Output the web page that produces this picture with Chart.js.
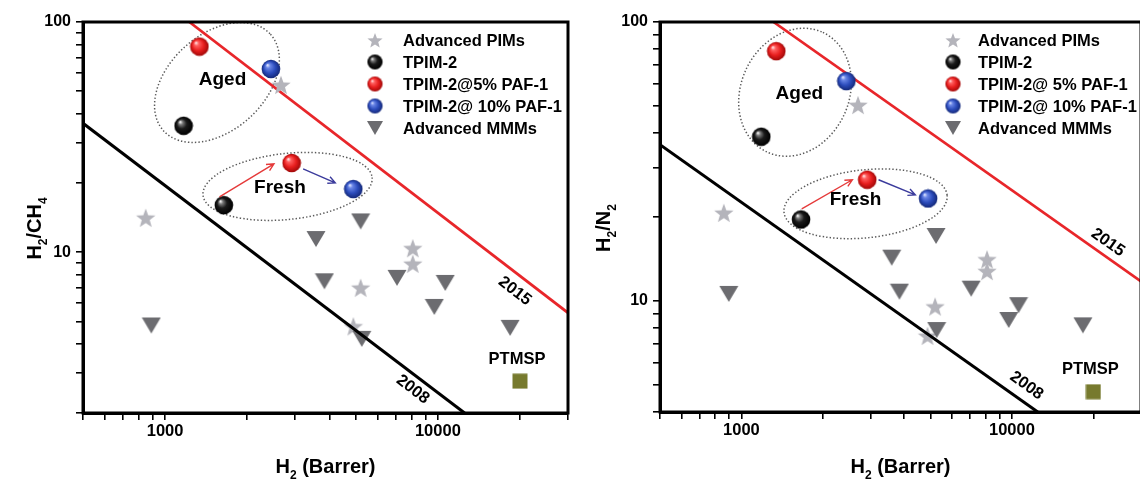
<!DOCTYPE html>
<html>
<head>
<meta charset="utf-8">
<script src="https://cdn.jsdelivr.net/npm/chart.js@4.4.1/dist/chart.umd.min.js"></script>
<style>
  html, body { margin: 0; padding: 0; background: #fff; overflow: hidden; width: 1140px; height: 479px; }
  #wrap { position: relative; width: 1140px; height: 479px; }
  canvas { position: absolute; top: 0; }
  #chartCH4 { left: 0; }
  #chartN2 { left: 580px; }
</style>
</head>
<body>
<div id="wrap">
  <canvas id="chartCH4" width="580" height="479"></canvas>
  <canvas id="chartN2" width="570" height="479"></canvas>
</div>
<script>
// shared axis values
const xRange = [500, 30000];
const xTicks = [500, 600, 700, 800, 900, 1000, 2000, 3000, 4000, 5000, 6000, 7000, 8000, 9000, 10000, 20000, 30000];
const xLabelled = [1000, 10000];
const yLabelled = [10, 100];

// H2/CH4 panel
const ch4Range = [2, 100];
const ch4Ticks = [2, 3, 4, 5, 6, 7, 8, 9, 10, 20, 30, 40, 50, 60, 70, 80, 90, 100];
const ch4Names = ['Advanced PIMs', 'TPIM-2', 'TPIM-2@5% PAF-1', 'TPIM-2@ 10% PAF-1', 'Advanced MMMs'];
const ch4PimsX = [849, 2660, 8090, 8090, 5210, 4900];
const ch4PimsY = [14.1, 53.3, 10.4, 8.9, 7.0, 4.76];
const ch4TpimX = [1169, 1642];
const ch4TpimY = [35.4, 16.0];
const ch4Paf5X = [1336, 2911];
const ch4Paf5Y = [78.2, 24.4];
const ch4Paf10X = [2443, 4897];
const ch4Paf10Y = [62.5, 18.8];
const ch4MmmX = [890, 3573, 3838, 5210, 5260, 7080, 9700, 10640, 18400];
const ch4MmmY = [4.80, 11.4, 7.47, 13.6, 4.2, 7.73, 5.78, 7.35, 4.69];
const ch4PtmspX = [20000];
const ch4PtmspY = [2.75];
const ch4Bound2015X = [1227, 30000];
const ch4Bound2015Y = [100, 5.45];
const ch4Bound2008X = [500, 12530];
const ch4Bound2008Y = [36.3, 2];
// annotation anchors (data coordinates)
const ch4AgedRing = [1549, 54.6];
const ch4FreshRing = [2812, 19.3];
const ch4AgedText = [1624, 56];
const ch4FreshText = [2637, 19.05];
const ch4ArrowRed = [1583, 17.4, 2506, 24.2];
const ch4ArrowBlue = [3206, 23.0, 4206, 20.0];
const ch4Label2015 = [19150, 6.77];
const ch4Label2008 = [8090, 2.53];

// H2/N2 panel
const n2Range = [4, 100];
const n2Ticks = [4, 5, 6, 7, 8, 9, 10, 20, 30, 40, 50, 60, 70, 80, 90, 100];
const n2Names = ['Advanced PIMs', 'TPIM-2', 'TPIM-2@ 5% PAF-1', 'TPIM-2@ 10% PAF-1', 'Advanced MMMs'];
const n2PimsX = [861, 2698, 8090, 8090, 5200, 4876];
const n2PimsY = [20.7, 50.4, 14.1, 12.8, 9.55, 7.5];
const n2TpimX = [1184, 1661];
const n2TpimY = [38.8, 19.6];
const n2Paf5X = [1345, 2918];
const n2Paf5Y = [78.6, 27.2];
const n2Paf10X = [2443, 4898];
const n2Paf10Y = [61.4, 23.3];
const n2MmmX = [898, 3594, 3837, 5240, 5270, 7068, 9730, 10580, 18300];
const n2MmmY = [10.6, 14.3, 10.8, 17.1, 7.87, 11.07, 8.55, 9.66, 8.18];
const n2PtmspX = [20000];
const n2PtmspY = [4.73];
const n2Bound2015X = [1314, 30000];
const n2Bound2015Y = [100, 11.75];
const n2Bound2008X = [500, 12460];
const n2Bound2008Y = [36.3, 4];
const n2AgedRing = [1578, 56];
const n2FreshRing = [2877, 22.3];
const n2AgedText = [1637, 55.2];
const n2FreshText = [2643, 23.1];
const n2ArrowRed = [1671, 21.4, 2571, 27.2];
const n2ArrowBlue = [3213, 27.2, 4395, 24.0];
const n2Label2015 = [22650, 16.2];
const n2Label2008 = [11320, 4.97];

const FONT = "'Liberation Sans', Arial, Helvetica, sans-serif";

// ---- marker images ----
function newCanvas(size) {
    const c = document.createElement('canvas');
    c.width = size; c.height = size;
    return c;
}

function makeSphere(size, r, stops) {
    const c = newCanvas(size);
    const g = c.getContext('2d');
    const m = size / 2;
    const grad = g.createRadialGradient(m - r * 0.38, m - r * 0.42, r * 0.05, m, m, r);
    stops.forEach(s => grad.addColorStop(s[0], s[1]));
    g.fillStyle = grad;
    g.beginPath();
    g.arc(m, m, r, 0, Math.PI * 2);
    g.fill();
    return c;
}

function makeStar(size, outer, inner, color) {
    const c = newCanvas(size);
    const g = c.getContext('2d');
    const m = size / 2;
    g.fillStyle = color;
    g.beginPath();
    for (let i = 0; i < 10; i++) {
        const a = -Math.PI / 2 + i * Math.PI / 5;
        const rr = i % 2 ? inner : outer;
        g.lineTo(m + rr * Math.cos(a), m + 1 + rr * Math.sin(a));
    }
    g.closePath();
    g.fill();
    return c;
}

function makeTriangle(size, w, h, color) {
    const c = newCanvas(size);
    const g = c.getContext('2d');
    const m = size / 2;
    const top = (size - h) / 2;
    g.fillStyle = color;
    g.beginPath();
    g.moveTo(m - w / 2, top);
    g.lineTo(m + w / 2, top);
    g.lineTo(m, top + h);
    g.closePath();
    g.fill();
    return c;
}

function makeSquare(size, s, color) {
    const c = newCanvas(size);
    const g = c.getContext('2d');
    g.fillStyle = color;
    g.fillRect((size - s) / 2, (size - s) / 2, s, s);
    return c;
}

const blackStops = [[0, '#f4f4f4'], [0.18, '#7a7a7a'], [0.5, '#1a1a1a'], [1, '#000']];
const redStops = [[0, '#ffe0e0'], [0.2, '#ff6060'], [0.6, '#e81e1e'], [1, '#a00808']];
const blueStops = [[0, '#d8e0ff'], [0.2, '#6a86e6'], [0.6, '#2c4cbc'], [1, '#142878']];

const icons = {
    black: makeSphere(20, 9.3, blackStops),
    red: makeSphere(20, 9.3, redStops),
    blue: makeSphere(20, 9.3, blueStops),
    star: makeStar(22, 10.2, 4.2, '#b4b4bb'),
    tri: makeTriangle(20, 19, 16, '#6c6c70'),
    square: makeSquare(16, 15, '#777a2e')
};
const legendIcons = [
    makeStar(18, 8, 3.4, '#b4b4bb'),
    makeSphere(17, 7.6, blackStops),
    makeSphere(17, 7.6, redStops),
    makeSphere(17, 7.6, blueStops),
    makeTriangle(18, 16, 14, '#6c6c70')
];

// ---- helpers ----
function pts(xs, ys) {
    return xs.map((x, i) => ({ x: x, y: ys[i] }));
}

function pointSet(label, xs, ys, icon) {
    return {
        label: label,
        data: pts(xs, ys),
        pointStyle: icon,
        pointRadius: 8,
        pointHoverRadius: 8,
        showLine: false
    };
}

function lineSet(label, xs, ys, color, width) {
    return {
        label: label,
        data: pts(xs, ys),
        showLine: true,
        borderColor: color,
        borderWidth: width,
        pointRadius: 0,
        pointHoverRadius: 0,
        fill: false
    };
}

function isLabelled(v, list) {
    return list.some(l => Math.abs(l - v) < 1e-6);
}

function drawSubText(ctx, parts, cx, cy, size, angle) {
    ctx.save();
    ctx.translate(cx, cy);
    ctx.rotate(angle);
    const big = 'bold ' + size + 'px ' + FONT;
    const small = 'bold ' + Math.round(size * 0.62) + 'px ' + FONT;
    let w = 0;
    parts.forEach(p => { ctx.font = p[1] ? small : big; w += ctx.measureText(p[0]).width; });
    let x = -w / 2;
    ctx.fillStyle = '#000';
    ctx.textAlign = 'left';
    ctx.textBaseline = 'alphabetic';
    parts.forEach(p => {
        ctx.font = p[1] ? small : big;
        ctx.fillText(p[0], x, size * 0.36 + (p[1] ? size * 0.3 : 0));
        x += ctx.measureText(p[0]).width;
    });
    ctx.restore();
}

function drawArrow(ctx, x1, y1, x2, y2, color) {
    const a = Math.atan2(y2 - y1, x2 - x1);
    ctx.strokeStyle = color;
    ctx.lineWidth = 1.4;
    ctx.beginPath();
    ctx.moveTo(x1, y1);
    ctx.lineTo(x2, y2);
    ctx.moveTo(x2 - 8 * Math.cos(a - 0.45), y2 - 8 * Math.sin(a - 0.45));
    ctx.lineTo(x2, y2);
    ctx.lineTo(x2 - 8 * Math.cos(a + 0.45), y2 - 8 * Math.sin(a + 0.45));
    ctx.stroke();
}

// rings, arrows, texts, legend, frame and axis titles
const annotPlugin = {
    id: 'annot',
    beforeDatasetsDraw(chart, args, o) {
        const ctx = chart.ctx;
        const px = v => chart.scales.x.getPixelForValue(v);
        const py = v => chart.scales.y.getPixelForValue(v);
        ctx.save();
        ctx.strokeStyle = '#5a5a5a';
        ctx.lineWidth = 1.5;
        ctx.setLineDash([1.4, 2.1]);
        o.rings.forEach(r => {
            ctx.beginPath();
            ctx.ellipse(px(r.at[0]), py(r.at[1]), r.rx, r.ry, r.rot * Math.PI / 180, 0, Math.PI * 2);
            ctx.stroke();
        });
        ctx.restore();
    },
    afterDatasetsDraw(chart, args, o) {
        const ctx = chart.ctx;
        const area = chart.chartArea;
        const px = v => chart.scales.x.getPixelForValue(v);
        const py = v => chart.scales.y.getPixelForValue(v);
        ctx.save();

        drawArrow(ctx, px(o.arrowRed[0]), py(o.arrowRed[1]), px(o.arrowRed[2]), py(o.arrowRed[3]), '#e53a3a');
        drawArrow(ctx, px(o.arrowBlue[0]), py(o.arrowBlue[1]), px(o.arrowBlue[2]), py(o.arrowBlue[3]), '#3b3b9c');

        ctx.fillStyle = '#000';
        ctx.textAlign = 'center';
        ctx.textBaseline = 'middle';
        ctx.font = 'bold 19px ' + FONT;
        ctx.fillText('Aged', px(o.agedText[0]), py(o.agedText[1]));
        ctx.fillText('Fresh', px(o.freshText[0]), py(o.freshText[1]));

        // PTMSP label above its square
        ctx.font = 'bold 16.5px ' + FONT;
        const sq = chart.getDatasetMeta(o.ptmspIndex).data[0];
        ctx.fillText('PTMSP', sq.x - 3, sq.y - 22);

        // rotated bound labels
        o.lineLabels.forEach(l => {
            const d = chart.getDatasetMeta(l.index).data;
            const ang = Math.atan2(d[1].y - d[0].y, d[1].x - d[0].x);
            ctx.save();
            ctx.translate(px(l.at[0]), py(l.at[1]));
            ctx.rotate(ang);
            ctx.font = 'bold 16.5px ' + FONT;
            ctx.fillText(l.text, 0, 0);
            ctx.restore();
        });

        // legend
        ctx.textAlign = 'left';
        ctx.font = 'bold 16.5px ' + FONT;
        o.legend.names.forEach((name, i) => {
            const y = o.legend.top + i * o.legend.rowH;
            const ic = legendIcons[i];
            ctx.drawImage(ic, area.right + o.legend.markerX - ic.width / 2, y - ic.height / 2);
            ctx.fillText(name, area.right + o.legend.textX, y + 1);
        });

        // frame
        ctx.strokeStyle = '#000';
        ctx.lineWidth = 3;
        ctx.strokeRect(area.left, area.top, area.right - area.left, area.bottom - area.top);

        // axis titles with subscripts
        drawSubText(ctx, o.yTitle, o.yTitleX, (area.top + area.bottom) / 2 + 11, 20, -Math.PI / 2);
        drawSubText(ctx, [['H', 0], ['2', 1], [' (Barrer)', 0]], (area.left + area.right) / 2, 466, 20, 0);
        ctx.restore();
    }
};

function makeChart(id, p) {
    return new Chart(document.getElementById(id), {
        type: 'scatter',
        data: {
            datasets: [
                pointSet(p.names[1], p.tpimX, p.tpimY, icons.black),
                pointSet(p.names[2], p.paf5X, p.paf5Y, icons.red),
                pointSet(p.names[3], p.paf10X, p.paf10Y, icons.blue),
                lineSet('2008', p.b2008X, p.b2008Y, '#000000', 3),
                pointSet(p.names[4], p.mmmX, p.mmmY, icons.tri),
                pointSet(p.names[0], p.pimsX, p.pimsY, icons.star),
                pointSet('PTMSP', p.ptmspX, p.ptmspY, icons.square),
                lineSet('2015', p.b2015X, p.b2015Y, '#e8262a', 2.7)
            ]
        },
        options: {
            responsive: false,
            animation: false,
            events: [],
            layout: { padding: { top: 22, right: p.padRight, left: 0, bottom: 0 } },
            plugins: {
                legend: { display: false },
                tooltip: { enabled: false },
                annot: {
                    rings: p.rings,
                    arrowRed: p.arrowRed,
                    arrowBlue: p.arrowBlue,
                    agedText: p.agedText,
                    freshText: p.freshText,
                    ptmspIndex: 6,
                    lineLabels: [
                        { text: '2015', at: p.label2015, index: 7 },
                        { text: '2008', at: p.label2008, index: 3 }
                    ],
                    legend: { names: p.names, markerX: p.legMarkerX, textX: p.legTextX, top: 40, rowH: 22 },
                    yTitle: p.yTitle,
                    yTitleX: p.yTitleX
                }
            },
            scales: {
                x: {
                    type: 'logarithmic',
                    min: xRange[0],
                    max: xRange[1],
                    afterBuildTicks: s => { s.ticks = xTicks.map(v => ({ value: v })); },
                    afterFit: s => { s.height = p.xAxisH; },
                    border: { display: true, color: '#000', width: 3 },
                    grid: { drawOnChartArea: false, drawTicks: true, tickLength: 7, color: '#000', lineWidth: 1.6 },
                    ticks: {
                        autoSkip: false, maxRotation: 0, minRotation: 0, padding: 2, color: '#000',
                        font: { family: FONT, size: 16.5, weight: 'bold' },
                        callback: v => isLabelled(v, xLabelled) ? String(v) : ''
                    }
                },
                y: {
                    type: 'logarithmic',
                    min: p.yRange[0],
                    max: p.yRange[1],
                    afterBuildTicks: s => { s.ticks = p.yTicks.map(v => ({ value: v })); },
                    afterFit: s => { s.width = p.yAxisW; },
                    border: { display: true, color: '#000', width: 3 },
                    grid: { drawOnChartArea: false, drawTicks: true, tickLength: 7, color: '#000', lineWidth: 1.6 },
                    ticks: {
                        autoSkip: false, padding: 5, color: '#000',
                        font: { family: FONT, size: 16, weight: 'bold' },
                        callback: v => isLabelled(v, yLabelled) ? String(v) : ''
                    }
                }
            }
        },
        plugins: [annotPlugin]
    });
}

makeChart('chartCH4', {
    names: ch4Names, yRange: ch4Range, yTicks: ch4Ticks,
    pimsX: ch4PimsX, pimsY: ch4PimsY, tpimX: ch4TpimX, tpimY: ch4TpimY,
    paf5X: ch4Paf5X, paf5Y: ch4Paf5Y, paf10X: ch4Paf10X, paf10Y: ch4Paf10Y,
    mmmX: ch4MmmX, mmmY: ch4MmmY, ptmspX: ch4PtmspX, ptmspY: ch4PtmspY,
    b2015X: ch4Bound2015X, b2015Y: ch4Bound2015Y, b2008X: ch4Bound2008X, b2008Y: ch4Bound2008Y,
    rings: [
        { at: ch4AgedRing, rx: 72, ry: 48, rot: -42 },
        { at: ch4FreshRing, rx: 85, ry: 33, rot: -6 }
    ],
    arrowRed: ch4ArrowRed, arrowBlue: ch4ArrowBlue,
    agedText: ch4AgedText, freshText: ch4FreshText,
    label2015: ch4Label2015, label2008: ch4Label2008,
    yTitle: [['H', 0], ['2', 1], ['/CH', 0], ['4', 1]], yTitleX: 34,
    padRight: 12, yAxisW: 83, xAxisH: 66,
    legMarkerX: -193, legTextX: -165
});

makeChart('chartN2', {
    names: n2Names, yRange: n2Range, yTicks: n2Ticks,
    pimsX: n2PimsX, pimsY: n2PimsY, tpimX: n2TpimX, tpimY: n2TpimY,
    paf5X: n2Paf5X, paf5Y: n2Paf5Y, paf10X: n2Paf10X, paf10Y: n2Paf10Y,
    mmmX: n2MmmX, mmmY: n2MmmY, ptmspX: n2PtmspX, ptmspY: n2PtmspY,
    b2015X: n2Bound2015X, b2015Y: n2Bound2015Y, b2008X: n2Bound2008X, b2008Y: n2Bound2008Y,
    rings: [
        { at: n2AgedRing, rx: 66, ry: 54, rot: -65 },
        { at: n2FreshRing, rx: 82, ry: 34, rot: -6 }
    ],
    arrowRed: n2ArrowRed, arrowBlue: n2ArrowBlue,
    agedText: n2AgedText, freshText: n2FreshText,
    label2015: n2Label2015, label2008: n2Label2008,
    yTitle: [['H', 0], ['2', 1], ['/N', 0], ['2', 1]], yTitleX: 23,
    padRight: 7, yAxisW: 80, xAxisH: 67,
    legMarkerX: -188, legTextX: -163
});
</script>
</body>
</html>
